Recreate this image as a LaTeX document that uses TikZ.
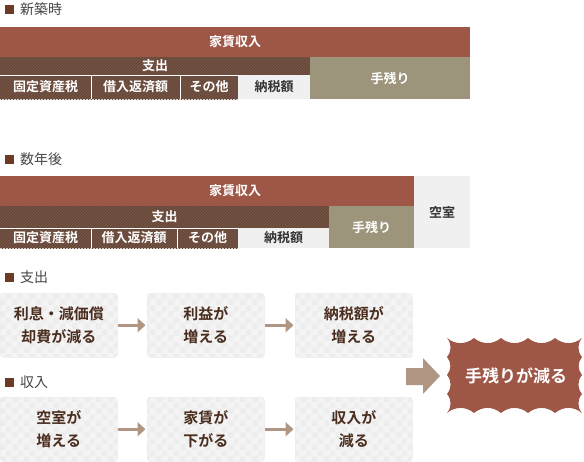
\documentclass[tikz,border=0pt]{standalone}
\usepackage{fontspec}
\setmainfont{Noto Sans CJK JP}[BoldFont={Noto Sans CJK JP Bold}]
\usetikzlibrary{arrows.meta,positioning,patterns}
\definecolor{rentred}{HTML}{9E5646}
\definecolor{hatchbase}{HTML}{775747}
\definecolor{hatchline}{HTML}{634436}
\definecolor{keepolive}{HTML}{9C957C}
\definecolor{cellgray}{HTML}{F0F0F0}
\definecolor{inkdark}{HTML}{333333}
\definecolor{headgray}{HTML}{444444}
\definecolor{sqbrown}{HTML}{6B3B26}
\definecolor{boxbg}{HTML}{F4F4F4}
\definecolor{boxchk}{HTML}{EDEDED}
\definecolor{boxedge}{HTML}{EAEAEA}
\definecolor{flowink}{HTML}{4A2D1E}
\definecolor{arrowtan}{HTML}{B09683}

\pgfdeclarepatternformonly{finehatch}{\pgfqpoint{-1pt}{-1pt}}{\pgfqpoint{4pt}{4pt}}{\pgfqpoint{3pt}{3pt}}{
  \pgfsetlinewidth{0.9pt}
  \pgfpathmoveto{\pgfqpoint{0pt}{0pt}}
  \pgfpathlineto{\pgfqpoint{3.1pt}{3.1pt}}
  \pgfusepath{stroke}
}
\pgfdeclarepatternformonly{boxcheck}{\pgfpointorigin}{\pgfqpoint{12pt}{12pt}}{\pgfqpoint{12pt}{12pt}}{
  \pgfpathrectangle{\pgfpointorigin}{\pgfqpoint{6pt}{6pt}}
  \pgfpathrectangle{\pgfqpoint{6pt}{6pt}}{\pgfqpoint{6pt}{6pt}}
  \pgfusepath{fill}
}

\begin{document}
\begin{tikzpicture}[x=1pt,y=-1pt,
  block/.style={anchor=north west,inner sep=0pt,outer sep=0pt,text=white,
    font=\fontsize{13}{13}\selectfont\bfseries},
  rentbar/.style={block,fill=rentred},
  hatchbar/.style={block,preaction={fill=hatchbase},pattern=finehatch,pattern color=hatchline},
  grayblock/.style={block,fill=cellgray,text=inkdark},
  keepbar/.style={block,fill=keepolive},
  heading/.style={anchor=base west,inner sep=0pt,text=headgray,font=\fontsize{14}{14}\selectfont},
  flowbox/.style={anchor=north west,rounded corners=3pt,draw=boxedge,line width=0.5pt,
    preaction={fill=boxbg},pattern=boxcheck,pattern color=boxchk,
    minimum width=117pt,minimum height=64pt,align=center,text=flowink,
    font=\fontsize{15}{23}\selectfont\bfseries},
  flowarrow/.style={draw=arrowtan,line width=3pt,shorten >=1.5pt,-{Triangle[length=8pt,width=14pt]}},
  sep/.style={draw=white,line width=1pt}]
  \useasboundingbox (0,0) rectangle (584,461);

  % New building
  \node[heading] (headnew) at (5,14) {\textcolor{sqbrown}{\rule[0.5pt]{9pt}{9pt}}\hspace{6pt}新築時};
  \node[rentbar,minimum width=470pt,minimum height=30pt] (rentnew) at (0,27) {};
  \node[text=white,font=\fontsize{13}{13}\selectfont\bfseries] (rentnewtxt) at (235,42) {家賃収入};
  \node[hatchbar,minimum width=310pt,minimum height=18pt] (costnew) at (0,57) {支出};
  \node[hatchbar,minimum width=91pt,minimum height=24pt] (taxnew) at (0,75) {固定資産税};
  \node[hatchbar,minimum width=89pt,minimum height=24pt] (loannew) at (91,75) {借入返済額};
  \node[hatchbar,minimum width=58pt,minimum height=24pt] (othernew) at (180,75) {その他};
  \node[grayblock,minimum width=72pt,minimum height=24pt] (incnew) at (238,75) {納税額};
  \node[keepbar,minimum width=160pt,minimum height=42pt] (keepnew) at (310,57) {手残り};
  \draw[sep] (taxnew.north west) -- (othernew.north east);
  \draw[sep] (taxnew.north east) -- (taxnew.south east);
  \draw[sep] (loannew.north east) -- (loannew.south east);

  % Some years later
  \node[heading] (headold) at (5,164) {\textcolor{sqbrown}{\rule[0.5pt]{9pt}{9pt}}\hspace{6pt}数年後};
  \node[rentbar,minimum width=414pt,minimum height=30pt] (rentold) at (0,176) {};
  \node[text=white,font=\fontsize{13}{13}\selectfont\bfseries] (rentoldtxt) at (235,191) {家賃収入};
  \node[grayblock,minimum width=56pt,minimum height=72pt] (vacant) at (414,176) {空室};
  \node[hatchbar,minimum width=329pt,minimum height=22pt] (costold) at (0,206) {支出};
  \node[hatchbar,minimum width=91pt,minimum height=20pt] (taxold) at (0,228) {固定資産税};
  \node[hatchbar,minimum width=86pt,minimum height=20pt] (loanold) at (91,228) {借入返済額};
  \node[hatchbar,minimum width=61pt,minimum height=20pt] (otherold) at (177,228) {その他};
  \node[grayblock,minimum width=91pt,minimum height=20pt] (incold) at (238,228) {納税額};
  \node[keepbar,minimum width=85pt,minimum height=42pt] (keepold) at (329,206) {手残り};
  \draw[sep] (taxold.north west) -- (otherold.north east);
  \draw[sep] (taxold.north east) -- (taxold.south east);
  \draw[sep] (loanold.north east) -- (loanold.south east);

  % Cost chain
  \node[heading] (headcost) at (5,282) {\textcolor{sqbrown}{\rule[0.5pt]{9pt}{9pt}}\hspace{6pt}支出};
  \node[flowbox] (depr) at (0,293) {利息・減価償\\却費が減る};
  \node[flowbox] (profit) at (147,293) {利益が\\増える};
  \node[flowbox] (taxup) at (295,293) {納税額が\\増える};
  \draw[flowarrow] (depr) -- (profit);
  \draw[flowarrow] (profit) -- (taxup);

  % Income chain
  \node[heading] (headinc) at (5,387) {\textcolor{sqbrown}{\rule[0.5pt]{9pt}{9pt}}\hspace{6pt}収入};
  \node[flowbox] (vacup) at (0,397) {空室が\\増える};
  \node[flowbox] (rentdown) at (147,397) {家賃が\\下がる};
  \node[flowbox] (incdown) at (295,397) {収入が\\減る};
  \draw[flowarrow] (vacup) -- (rentdown);
  \draw[flowarrow] (rentdown) -- (incdown);

  % Result
  \fill[arrowtan] (406,368) -- (423,368) -- (423,358) -- (440,376) -- (423,394) -- (423,385) -- (406,385) -- cycle;
  \fill[rentred] (447,338) \foreach \px/\py in {474/338,501/338,528/338,555/338,582/338,
      582/357,582/375,582/394,582/413,555/413,528/413,501/413,474/413,447/413,
      447/394,447/375,447/357,447/338} { to[bend right=40] (\px,\py) } -- cycle;
  \node[text=white,font=\fontsize{17}{17}\selectfont\bfseries] (result) at (516,376) {手残りが減る};
\end{tikzpicture}
\end{document}
